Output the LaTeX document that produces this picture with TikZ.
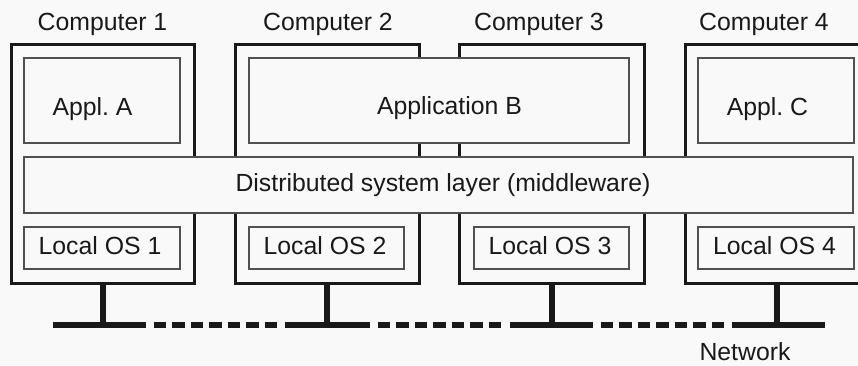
\documentclass[tikz,border=0pt]{standalone}
\usepackage{fontspec}
\setmainfont{Liberation Sans}
\usepackage{tikz}
\usetikzlibrary{arrows,positioning,fit,calc}
\tikzset{>=stealth}
\definecolor{paper}{RGB}{249,249,249}
\definecolor{boxline}{RGB}{80,80,80}
\definecolor{ink}{RGB}{25,25,25}
\frenchspacing

\begin{document}
\begin{tikzpicture}[x=0.5pt,y=-0.5pt,
	comp/.style={draw=ink, line width=1.5pt, fill=paper, inner sep=0pt},
	layer/.style={draw=boxline, line width=1pt, fill=paper, inner sep=0pt},
	txt/.style={anchor=base, inner sep=0pt, text=ink, font=\fontsize{12.4}{15}\selectfont},
	wire/.style={draw=ink, line width=3pt},
	gap/.style={draw=ink, line width=3pt, dash pattern=on 6.15pt off 3.1pt, shorten <=3.9pt, shorten >=3.9pt}]
					\fill[paper] (0,0) rectangle (858,365);
					\useasboundingbox (0,0) rectangle (858,365);
					\clip (0,0) rectangle (858,365);
					%Computers
					\node[comp, fit={(11,44) (194,283)}] (C1) {};
					\node[comp, fit={(235,44) (419,283)}] (C2) {};
					\node[comp, fit={(459,44) (644,283)}] (C3) {};
					\node[comp, fit={(685,44) (869,283)}] (C4) {};
					\node[txt] (T1) at (102.5,30) {Computer 1};
					\node[txt] (T2) at (328,30) {Computer 2};
					\node[txt] (T3) at (539,30) {Computer 3};
					\node[txt] (T4) at (764,30) {Computer 4};
					
					%Applications
					\node[layer, fit={(24,58) (180,143)}] (AppA) {};
					\node[layer, fit={(249,58) (629,143)}] (AppB) {};
					\node[layer, fit={(698,58) (854,143)}] (AppC) {};
					\node[txt] (tA) at (92.5,115) {Appl. A};
					\node[txt] (tB) at (449.5,114) {Application B};
					\node[txt] (tC) at (767.5,115) {Appl. C};
					
					%Middleware
					\node[layer, fit={(24,157) (853,213)}] (MW) {};
					\node[txt] (tMW) at (443,191) {Distributed system layer (middleware)};
					
					%Local OS
					\node[layer, fit={(24,227) (180,269)}] (OS1) {};
					\node[layer, fit={(249,227) (404,269)}] (OS2) {};
					\node[layer, fit={(474,227) (629,269)}] (OS3) {};
					\node[layer, fit={(698,227) (854,269)}] (OS4) {};
					\node[txt] (tOS1) at (100,254) {Local OS 1};
					\node[txt] (tOS2) at (325,254) {Local OS 2};
					\node[txt] (tOS3) at (550,254) {Local OS 3};
					\node[txt] (tOS4) at (774.5,254) {Local OS 4};
					
					%Network
					\coordinate (n1a) at (53,325);
					\coordinate (n1b) at (146,325);
					\coordinate (n2a) at (285,325);
					\coordinate (n2b) at (370,325);
					\coordinate (n3a) at (510,325);
					\coordinate (n3b) at (593,325);
					\coordinate (n4a) at (732,325);
					\coordinate (n4b) at (825,325);
					\draw[wire] (C1.south) -- (C1.south |- n1a);
					\draw[wire] (C2.south) -- (C2.south |- n1a);
					\draw[wire] (C3.south) -- (C3.south |- n1a);
					\draw[wire] (C4.south) -- (C4.south |- n1a);
					\draw[wire] (n1a) -- (n1b);
					\draw[wire] (n2a) -- (n2b);
					\draw[wire] (n3a) -- (n3b);
					\draw[wire] (n4a) -- (n4b);
					\draw[gap] (n1b) -- (n2a);
					\draw[gap] (n2b) -- (n3a);
					\draw[gap] (n3b) -- (n4a);
					\node[txt] (Net) at (745,360) {Network};
\end{tikzpicture}
\end{document}
